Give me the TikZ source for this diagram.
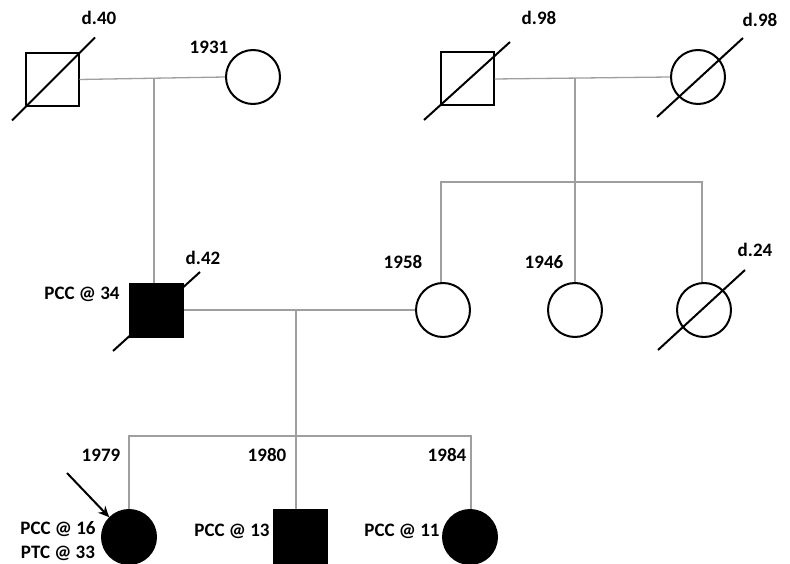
\documentclass[tikz,border=0pt]{standalone}
\usepackage{fontspec}
\setmainfont{Carlito}
\usetikzlibrary{calc,arrows.meta}
\begin{document}
\begin{tikzpicture}[x=1pt,y=-1pt,
  lbl/.style={font=\bfseries\fontsize{19}{22}\selectfont, inner sep=0pt, text depth=0pt},
  male/.style={draw=black, line width=2pt, rectangle, minimum size=53pt, inner sep=0pt},
  female/.style={draw=black, line width=2pt, circle, minimum size=54pt, inner sep=0pt},
  aff/.style={fill=black},
  rel/.style={draw=gray!75, line width=1.3pt},
  dec/.style={draw=black, line width=2pt},
  prob/.style={draw=black, line width=2pt, -{Stealth[length=11pt,width=10pt]}}]
\clip (0,0) rectangle (790,564);
\fill[white] (0,0) rectangle (790,564);
% generation 1
\node[male] (gf1) at (52,79.5) {};
\node[female] (gm1) at (253,77) {};
\node[male] (gf2) at (467,79) {};
\node[female] (gm2) at (698,77) {};
% generation 2
\node[male,aff] (fa) at (156,310) {};
\node[female] (mo) at (443,310) {};
\node[female] (au1) at (575,310) {};
\node[female] (au2) at (704,310) {};
% generation 3
\node[female,aff] (c1) at (129,537) {};
\node[male,aff] (c2) at (300,536.5) {};
\node[female,aff] (c3) at (470,537) {};
% relationship lines
\coordinate (m1) at (154,78);
\coordinate (m2) at (575,78);
\coordinate (m3) at (296,310);
\draw[rel] (gf1.east) -- (gm1.west);
\draw[rel] (m1) -- (fa.north -| m1);
\draw[rel] (gf2.east) -- (gm2.west);
\coordinate (s1a) at (441,182);
\coordinate (s1b) at (702,182);
\draw[rel] (mo.north -| s1a) -- (s1a) -- (s1b) -- (au2.north -| s1b);
\draw[rel] (m2) -- (au1.north);
\draw[rel] (fa.east) -- (mo.west);
\coordinate (s2a) at (129,436);
\coordinate (s2b) at (471,436);
\draw[rel] (c1.north) -- (s2a) -- (s2b) -- (c3.north -| s2b);
\draw[rel] (m3) -- (c2.north -| m3);
% deceased marks
\draw[dec] ($(gf1)+(-40,41)$) -- ($(gf1)+(43,-42)$);
\draw[dec] ($(gf2)+(-43,41)$) -- ($(gf2)+(43,-37)$);
\draw[dec] ($(gm2)+(-41,40)$) -- ($(gm2)+(45,-39)$);
\draw[dec] ($(fa)+(-43,41)$) -- ($(fa)+(44,-38)$);
\draw[dec] ($(au2)+(-46,40)$) -- ($(au2)+(41,-40)$);
% proband arrow
\coordinate (pa) at (67,473);
\draw[prob] (pa) -- (c1.135);
% labels
\node[lbl] (l1) at (99,18) {d.40};
\node[lbl] (l2) at (209,47) {1931};
\node[lbl] (l3) at (539,18) {d.98};
\node[lbl] (l4) at (760,20) {d.98};
\node[lbl] (l5) at (203,258) {d.42};
\node[lbl] (l6) at (82,293) {PCC @ 34};
\node[lbl] (l7) at (403,262) {1958};
\node[lbl] (l8) at (544,262) {1946};
\node[lbl] (l9) at (755,250) {d.24};
\node[lbl] (l10) at (101,455) {1979};
\node[lbl] (l11) at (267,455) {1980};
\node[lbl] (l12) at (447,455) {1984};
\node[lbl] (l13) at (58,528) {PCC @ 16};
\node[lbl] (l14) at (58,552) {PTC @ 33};
\node[lbl] (l15) at (232,530) {PCC @ 13};
\node[lbl] (l16) at (402,530) {PCC @ 11};
\end{tikzpicture}
\end{document}
